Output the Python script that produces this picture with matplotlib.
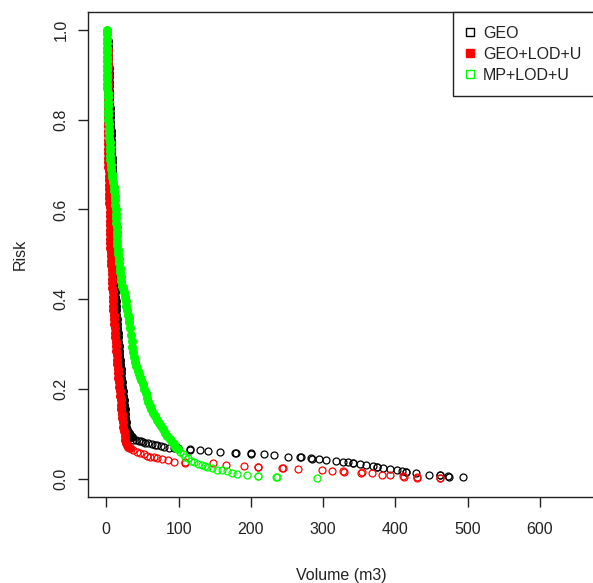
import matplotlib
matplotlib.use("Agg")
import matplotlib.pyplot as plt
from matplotlib.lines import Line2D

plt.rcParams['font.family'] = ['Liberation Sans', 'DejaVu Sans']

# ---------------- data ----------------
geo_volume = [2.5, 2.6, 2.7, 2.8, 2.9, 3.0, 3.1, 3.2, 3.3, 3.4, 3.5, 3.6, 3.7, 3.9, 4.2, 4.5,
              4.8, 5.1, 5.4, 5.7, 6.0, 6.3, 6.6, 6.8, 7.0, 7.1, 7.2, 7.3, 7.4, 7.5, 7.6, 7.7,
              7.8, 7.9, 8.0, 8.1, 8.2, 8.3, 8.4, 8.6, 8.8, 9.0, 9.2, 9.4, 9.6, 9.8, 10.0, 10.2,
              10.4, 10.6, 10.8, 11.0, 11.2, 11.5, 11.8, 12.1, 12.4, 12.7, 13.0, 13.3, 13.6, 13.9,
              14.2, 14.6, 15.0, 15.5, 16.0, 16.5, 17.0, 17.5, 18.0, 18.6, 19.2, 19.8, 20.4, 21.0,
              21.6, 22.2, 22.8, 23.4, 24.0, 24.6, 25.2, 25.8, 26.4, 27.0, 27.8, 29.0, 31.0, 33.0,
              35.0,
              37.6, 41.0, 44.7, 48.0, 51.0, 54.1, 58.0, 63.5, 67.0, 70.6, 75.0, 80.0, 87.0, 93.0,
              98.8, 99.5, 115.2, 116.0, 129.3, 141.1, 156.6, 178.7, 179.5, 199.9, 200.6, 218.7,
              231.9, 250.7, 268.1, 268.8, 283.6, 284.3, 294.0, 303.4, 317.5, 326.9, 334.0, 341.0,
              341.7, 350.4, 359.8, 369.2, 373.9, 374.6, 383.3, 392.8, 402.2, 409.2, 413.9, 415.0,
              428.0, 446.9, 461.0, 461.7, 472.7, 473.4, 493.0]
geo_risk = [0.975, 0.965, 0.955, 0.945, 0.935, 0.925, 0.915, 0.905, 0.895, 0.885, 0.875, 0.865,
            0.855, 0.845, 0.835, 0.825, 0.815, 0.805, 0.795, 0.785, 0.775, 0.765, 0.755, 0.745,
            0.735, 0.725, 0.715, 0.705, 0.695, 0.685, 0.675, 0.665, 0.655, 0.645, 0.635, 0.625,
            0.615, 0.605, 0.595, 0.585, 0.575, 0.565, 0.555, 0.545, 0.535, 0.525, 0.515, 0.505,
            0.495, 0.485, 0.475, 0.465, 0.455, 0.445, 0.435, 0.425, 0.415, 0.405, 0.395, 0.385,
            0.375, 0.365, 0.355, 0.345, 0.335, 0.325, 0.315, 0.305, 0.295, 0.285, 0.275, 0.265,
            0.255, 0.245, 0.235, 0.225, 0.215, 0.205, 0.195, 0.185, 0.175, 0.165, 0.155, 0.145,
            0.135, 0.125, 0.115, 0.108, 0.102, 0.097, 0.092,
            0.087, 0.086, 0.084, 0.083, 0.081, 0.080, 0.079, 0.077, 0.075, 0.074, 0.073, 0.071,
            0.069, 0.069, 0.068, 0.067, 0.065, 0.064, 0.064, 0.062, 0.059, 0.058, 0.058, 0.056,
            0.055, 0.054, 0.052, 0.049, 0.048, 0.047, 0.045, 0.044, 0.044, 0.042, 0.039, 0.038,
            0.036, 0.035, 0.034, 0.032, 0.030, 0.028, 0.026, 0.025, 0.024, 0.021, 0.019, 0.017,
            0.015, 0.014, 0.012, 0.009, 0.008, 0.007, 0.005, 0.004, 0.003]

lod_volume = [2.6, 2.7, 2.8, 2.8, 2.8, 2.7, 2.6, 2.5, 2.4, 2.3, 2.2, 2.1, 2.1, 2.1, 2.2, 2.2,
              2.3, 2.3, 2.4, 2.4, 2.5, 2.5, 2.6, 2.7, 2.8, 2.9, 3.0, 3.1, 3.2, 3.3, 3.5, 3.7,
              3.9, 4.1, 4.3, 4.5, 4.7, 4.9, 5.0, 5.1, 5.2, 5.3, 5.4, 5.5, 5.8, 6.1, 6.4, 6.7,
              7.0, 7.3, 7.6, 7.9, 8.2, 8.5, 8.8, 9.1, 9.3, 9.5, 9.7, 10.2, 10.7, 11.2, 11.7,
              12.2, 12.6, 13.0, 13.5, 13.9, 14.4, 14.8, 15.3, 15.7, 16.2, 16.7, 17.3, 17.9, 18.5,
              19.1, 19.7, 20.2, 20.7, 21.4, 22.1, 22.8, 23.5, 24.4, 25.4, 26.3, 27.0, 28.0, 30.0,
              33.0, 37.6, 43.0, 47.0, 52.0, 56.4, 61.1, 66.0, 70.6, 77.6, 84.7, 94.1, 108.2,
              108.8, 148.2, 165.6, 190.5, 209.3, 210.0, 243.7, 244.5, 264.8, 298.7, 312.8, 327.8,
              328.5, 352.8, 353.5, 366.9, 381.0, 392.8, 410.6, 411.2, 429.4, 430.0, 461.0, 462.0]
lod_risk = [0.955, 0.945, 0.935, 0.925, 0.915, 0.905, 0.895, 0.885, 0.875, 0.865, 0.855, 0.845,
            0.835, 0.825, 0.815, 0.805, 0.795, 0.785, 0.775, 0.765, 0.755, 0.745, 0.735, 0.725,
            0.715, 0.705, 0.695, 0.685, 0.675, 0.665, 0.655, 0.645, 0.635, 0.625, 0.615, 0.605,
            0.595, 0.585, 0.575, 0.565, 0.555, 0.545, 0.535, 0.525, 0.515, 0.505, 0.495, 0.485,
            0.475, 0.465, 0.455, 0.445, 0.435, 0.425, 0.415, 0.405, 0.395, 0.385, 0.375, 0.365,
            0.355, 0.345, 0.335, 0.325, 0.315, 0.305, 0.295, 0.285, 0.275, 0.265, 0.255, 0.245,
            0.235, 0.225, 0.215, 0.205, 0.195, 0.185, 0.175, 0.165, 0.155, 0.145, 0.135, 0.125,
            0.115, 0.105, 0.095, 0.087, 0.080, 0.075, 0.071,
            0.068, 0.064, 0.060, 0.058, 0.054, 0.051, 0.048, 0.047, 0.045, 0.044, 0.042, 0.038,
            0.036, 0.035, 0.034, 0.030, 0.027, 0.025, 0.026, 0.024, 0.023, 0.022, 0.019, 0.017,
            0.016, 0.015, 0.013, 0.014, 0.012, 0.009, 0.008, 0.005, 0.004, 0.003, 0.002, 0.002,
            0.001]

mp_volume = [1.0, 1.0, 1.0, 1.0, 1.0, 1.0, 1.0, 1.0, 1.1, 1.1, 1.2, 1.3, 1.4, 1.5, 1.6, 1.8,
             2.0, 2.2, 2.4, 2.6, 2.8, 3.0, 3.3, 3.6, 3.9, 4.2, 4.5, 4.8, 5.1, 5.3, 5.5, 6.0,
             6.8, 7.6, 8.3, 9.2, 10.0, 10.8, 11.6, 12.2, 12.6, 13.0, 13.4, 13.8, 14.1, 14.4,
             14.7, 15.0, 15.2, 15.4, 15.6, 16.2, 17.0, 17.8, 18.6, 19.4, 20.2, 21.0, 22.0,
             23.5, 24.5, 25.6, 26.6, 27.6, 28.6, 29.8, 31.0, 32.0, 33.0, 34.0, 35.0, 36.2,
             37.3, 38.6, 40.0, 41.6, 43.2, 45.0, 46.8, 48.4, 50.4, 52.4, 54.4, 56.4, 58.0,
             60.2, 62.5, 65.0, 67.5, 70.0, 72.8, 75.5, 78.2, 81.6, 84.4, 87.5, 90.5, 93.0,
             95.4, 98.6, 102.0, 105.5, 109.0, 113.0, 117.6, 122.0, 126.5, 131.7, 136.0, 139.7,
             145.8, 152.9, 159.9, 167.0, 174.0, 181.0, 195.2, 209.3, 210.0, 235.2, 236.0, 291.6]
mp_risk = [1.000, 0.995, 0.990, 0.980, 0.970, 0.960, 0.950, 0.940, 0.930, 0.920, 0.910, 0.900,
           0.890, 0.880, 0.870, 0.860, 0.850, 0.840, 0.830, 0.820, 0.810, 0.800, 0.790, 0.780,
           0.770, 0.760, 0.750, 0.740, 0.730, 0.720, 0.710, 0.700, 0.690, 0.680, 0.672, 0.660,
           0.650, 0.640, 0.630, 0.620, 0.610, 0.600, 0.590, 0.580, 0.570, 0.560, 0.550, 0.540,
           0.530, 0.520, 0.510, 0.500, 0.490, 0.480, 0.470, 0.460, 0.450, 0.440, 0.430, 0.425,
           0.415, 0.405, 0.395, 0.385, 0.375, 0.365, 0.358, 0.350, 0.335, 0.320, 0.306, 0.293,
           0.281, 0.270, 0.260, 0.250, 0.240, 0.232, 0.226, 0.220, 0.210, 0.200, 0.190, 0.180,
           0.170, 0.162, 0.155, 0.147, 0.139, 0.131, 0.124, 0.117, 0.110, 0.102, 0.095, 0.088,
           0.082, 0.076, 0.071, 0.065, 0.060, 0.054, 0.049, 0.045, 0.040, 0.036, 0.033, 0.030,
           0.027, 0.025, 0.023, 0.020, 0.018, 0.016, 0.013, 0.011, 0.008, 0.006, 0.005, 0.003,
           0.004, 0.002]

series_labels = ["GEO", "GEO+LOD+U", "MP+LOD+U"]
series_colors = ["#000000", "#ff0000", "#00ff00"]
x_ticks = [0, 100, 200, 300, 400, 500, 600]
y_ticks = [0.0, 0.2, 0.4, 0.6, 0.8, 1.0]

# Below these risk levels the circles separate; above, they overlap into a solid band.
dense_cutoff = [0.088, 0.066, 0.062]

# ---------------- figure ----------------
W, H = 593, 583
fig = plt.figure(figsize=(W / 100, H / 100), dpi=100)
L, R, T, B = 87.5, 595.0, 12.0, 496.5
ax = fig.add_axes([L / W, (H - B) / H, (R - L) / W, (B - T) / H])

ms, mew = 5.0, 0.9
ms_dense = 5.6
for vols, risks, col, cut in [(geo_volume, geo_risk, series_colors[0], dense_cutoff[0]),
                              (lod_volume, lod_risk, series_colors[1], dense_cutoff[1]),
                              (mp_volume, mp_risk, series_colors[2], dense_cutoff[2])]:
    dv = [v for v, r in zip(vols, risks) if r > cut]
    dr = [r for r in risks if r > cut]
    sv = [v for v, r in zip(vols, risks) if r <= cut]
    sr = [r for r in risks if r <= cut]
    ax.plot(dv, dr, linestyle='none', marker='o', markersize=ms_dense,
            markerfacecolor=col, markeredgecolor=col, markeredgewidth=mew)
    ax.plot(sv, sr, linestyle='none', marker='o', markersize=ms,
            markerfacecolor='none', markeredgecolor=col, markeredgewidth=mew)

ax.set_xlim(-26, 676)
ax.set_ylim(-0.04, 1.04)
ax.set_xticks(x_ticks)
ax.set_xticklabels([str(t) for t in x_ticks])
ax.set_yticks(y_ticks)
ax.set_yticklabels(["%.1f" % t for t in y_ticks])

for sp in ax.spines.values():
    sp.set_linewidth(1.0)
    sp.set_color('#222222')

ax.tick_params(axis='both', direction='out', length=7.5, width=1.0,
               color='#222222', labelsize=11.5, labelcolor='#222222')
ax.tick_params(axis='x', pad=10.5)
ax.tick_params(axis='y', pad=6, labelrotation=90)
for lab in ax.get_yticklabels():
    lab.set_va('center')

ax.set_xlabel("Volume (m3)", fontsize=11.5, color='#222222')
ax.set_ylabel("Risk", fontsize=11.5, color='#222222')
ax.xaxis.label.set_va('center')
ax.yaxis.label.set_va('center')
ax.xaxis.set_label_coords(0.5, (B - 575.5) / (B - T))
ax.yaxis.set_label_coords((20 - L) / (R - L), 0.5)

handles = [
    Line2D([], [], linestyle='none', marker='s', markersize=6, markerfacecolor='none',
           markeredgecolor=series_colors[0], markeredgewidth=1.0),
    Line2D([], [], linestyle='none', marker='s', markersize=6, markerfacecolor=series_colors[1],
           markeredgecolor=series_colors[1], markeredgewidth=1.0),
    Line2D([], [], linestyle='none', marker='s', markersize=6, markerfacecolor='none',
           markeredgecolor=series_colors[2], markeredgewidth=1.0),
]
leg = ax.legend(handles, series_labels, loc='upper right', bbox_to_anchor=(1.0, 1.0),
                borderaxespad=0.0, fontsize=11.5, frameon=True, fancybox=False,
                framealpha=1.0, edgecolor='#222222', borderpad=0.85, labelspacing=0.38,
                handlelength=0.5, handletextpad=0.55)
leg.get_frame().set_linewidth(1.0)
for t in leg.get_texts():
    t.set_color('#222222')

fig.savefig("out.png", dpi=100)
